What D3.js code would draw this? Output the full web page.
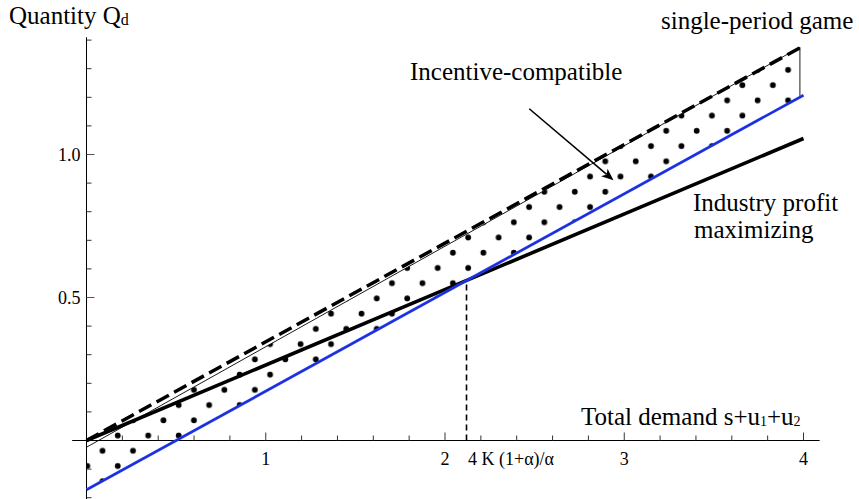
<!DOCTYPE html>
<html><head><meta charset="utf-8">
<script src="https://cdn.jsdelivr.net/npm/d3@7"></script>
<style>
body{margin:0;background:#fff}
svg{display:block}
text{font-family:"Liberation Serif","Times New Roman",serif;fill:#000}
</style>
</head><body>
<svg id="c" width="859" height="499"></svg>
<script>
// ---- data ----
const xMajorTicks = [1, 2, 3, 4];
const xMajorLabels = ["1", "2", "3", "4"];
const yMajorTicks = [0.5, 1.0];
const yMajorLabels = ["0.5", "1.0"];
const xMinorTicks = [0.2, 0.4, 0.6, 0.8, 1.2, 1.4, 1.6, 1.8, 2.2, 2.4, 2.6, 2.8, 3.2, 3.4, 3.6, 3.8];
const yMinorTicks = [-0.2, -0.1, 0.1, 0.2, 0.3, 0.4, 0.6, 0.7, 0.8, 0.9, 1.1, 1.2, 1.3, 1.4];
const demandX = [0, 4];
const singlePeriodQ = [0, 1.38];        // dashed: single-period game
const industryQ = [0, 1.056];           // thick: industry profit maximizing
const blueQ = [-0.1725, 1.2075];        // blue lower bound
const regionX = [0, 3.98];
const regionUpperQ = [-0.0235, 1.375];  // thin upper bound of incentive-compatible set
const regionLowerQ = [-0.1725, 1.1996];
const critical = { x: 2.12, q: 0.5597, label: "4 K (1+α)/α" };
const arrowFrom = [2.47, 1.16], arrowTo = [2.94, 0.91];

// ---- scales ----
const svg = d3.select("#c");
const x = d3.scaleLinear().domain([0, 4]).range([86.5, 803.5]);
const y = d3.scaleLinear().domain([0, 1]).range([440.5, 154.5]);
const line = d3.line().x(d => x(d[0])).y(d => y(d[1]));
const pair = (xs, qs) => xs.map((v, i) => [v, qs[i]]);

// ---- dotted region ----
const defs = svg.append("defs");
const dx = 30.47, off = 7.6;
const pat = defs.append("pattern").attr("id", "dots")
  .attr("patternUnits", "userSpaceOnUse")
  .attr("width", dx).attr("height", dx)
  .attr("x", x(0) + 0.8 - off).attr("y", y(0) + 25.5 - off);
pat.append("circle").attr("cx", off).attr("cy", off).attr("r", 2.9).attr("fill", "#000");
pat.append("circle").attr("cx", off + dx / 2).attr("cy", off + dx / 2).attr("r", 2.9).attr("fill", "#000");

const regionPts = [
  [regionX[0], regionUpperQ[0]], [regionX[1], regionUpperQ[1]],
  [regionX[1], regionLowerQ[1]], [regionX[0], regionLowerQ[0]]
];
svg.append("path").attr("d", line(regionPts) + "Z").attr("fill", "url(#dots)").attr("stroke", "none");

// ---- axes ----
const ax = svg.append("g").attr("stroke", "#000").attr("stroke-width", 1);
ax.append("line").attr("x1", x(-0.08)).attr("x2", x(4.09)).attr("y1", y(0)).attr("y2", y(0));
ax.append("line").attr("x1", x(0)).attr("x2", x(0)).attr("y1", y(-0.21)).attr("y2", y(1.41));
ax.selectAll(".xm").data(xMajorTicks).join("line")
  .attr("x1", d => x(d)).attr("x2", d => x(d)).attr("y1", y(0)).attr("y2", y(0) - 8).attr("stroke", "#333");
ax.selectAll(".xn").data(xMinorTicks).join("line")
  .attr("x1", d => x(d)).attr("x2", d => x(d)).attr("y1", y(0)).attr("y2", y(0) - 5).attr("stroke", "#333");
ax.selectAll(".ym").data(yMajorTicks).join("line")
  .attr("x1", x(0)).attr("x2", x(0) + 8).attr("y1", d => y(d)).attr("y2", d => y(d)).attr("stroke", "#555");
ax.selectAll(".yn").data(yMinorTicks).join("line")
  .attr("x1", x(0)).attr("x2", x(0) + 5).attr("y1", d => y(d)).attr("y2", d => y(d)).attr("stroke", "#333");

svg.selectAll(".xl").data(xMajorTicks).join("text")
  .attr("x", d => x(d)).attr("y", y(0) + 24).attr("text-anchor", "middle")
  .attr("font-size", 18).text((d, i) => xMajorLabels[i]);
svg.selectAll(".yl").data(yMajorTicks).join("text")
  .attr("x", x(0) - 6).attr("y", d => y(d) + 6).attr("text-anchor", "end")
  .attr("font-size", 18).text((d, i) => yMajorLabels[i]);

// ---- lines ----
svg.append("path").attr("d", line(pair(demandX, industryQ)))
  .attr("fill", "none").attr("stroke", "#000").attr("stroke-width", 3.6);
// region outline: upper and right edges
svg.append("path").attr("d", line(regionPts.slice(0, 3)))
  .attr("fill", "none").attr("stroke", "#000").attr("stroke-width", 0.9);
svg.append("path").attr("d", line(pair(demandX, blueQ)))
  .attr("fill", "none").attr("stroke", "#2438f0").attr("stroke-width", 2.8);
svg.append("path").attr("d", line(pair(demandX, blueQ)))
  .attr("fill", "none").attr("stroke", "#101c90").attr("stroke-width", 0.6).attr("opacity", 0.7);
svg.append("path").attr("d", line(pair(demandX, singlePeriodQ)))
  .attr("fill", "none").attr("stroke", "#000").attr("stroke-width", 3.5)
  .attr("stroke-dasharray", "14,6");

// critical vertical
svg.append("line").attr("x1", x(critical.x)).attr("x2", x(critical.x))
  .attr("y1", y(0)).attr("y2", y(critical.q))
  .attr("stroke", "#000").attr("stroke-width", 1.6).attr("stroke-dasharray", "6,4");
svg.append("text").attr("x", x(critical.x) + 1.5).attr("y", y(0) + 24)
  .attr("font-size", 18).text(critical.label);

// arrow
const ax1 = x(arrowFrom[0]), ay1 = y(arrowFrom[1]), ax2 = x(arrowTo[0]), ay2 = y(arrowTo[1]);
const ang = Math.atan2(ay2 - ay1, ax2 - ax1);
const L = 12, W = 5, N = 9;
const bx = ax2 - L * Math.cos(ang), by = ay2 - L * Math.sin(ang);
svg.append("line").attr("x1", ax1).attr("y1", ay1)
  .attr("x2", ax2 - N * Math.cos(ang)).attr("y2", ay2 - N * Math.sin(ang))
  .attr("stroke", "#000").attr("stroke-width", 1.6);
svg.append("path").attr("d",
  `M${ax2},${ay2}L${bx - W * Math.sin(ang)},${by + W * Math.cos(ang)}L${ax2 - N * Math.cos(ang)},${ay2 - N * Math.sin(ang)}L${bx + W * Math.sin(ang)},${by - W * Math.cos(ang)}Z`)
  .attr("fill", "#000");

// ---- text labels ----
const t1 = svg.append("text").attr("x", 9).attr("y", 24).attr("font-size", 25);
t1.append("tspan").text("Quantity Q");
t1.append("tspan").attr("font-size", 16).attr("dy", 1).text("d");

svg.append("text").attr("x", 661).attr("y", 29).attr("font-size", 25).text("single-period game");
svg.append("text").attr("x", 410).attr("y", 80).attr("font-size", 25).text("Incentive-compatible");
svg.append("text").attr("x", 693).attr("y", 211).attr("font-size", 25).text("Industry profit");
svg.append("text").attr("x", 694).attr("y", 238).attr("font-size", 25).text("maximizing");

const t2 = svg.append("text").attr("x", 581).attr("y", 425).attr("font-size", 25);
t2.append("tspan").text("Total demand s+u");
t2.append("tspan").attr("font-size", 14).attr("dy", 1).text("1");
t2.append("tspan").attr("dy", -1).text("+u");
t2.append("tspan").attr("font-size", 14).attr("dy", 1).text("2");
</script>
</body></html>
